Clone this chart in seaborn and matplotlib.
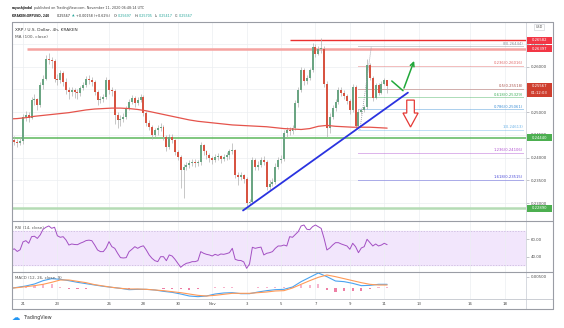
import numpy as np
import pandas as pd
import matplotlib
matplotlib.use("Agg")
import matplotlib.pyplot as plt
import matplotlib.dates as mdates
import matplotlib.transforms as mtransforms
from matplotlib.patches import Rectangle, Polygon
from matplotlib.lines import Line2D
import seaborn as sns

sns.set_theme(style="white")
plt.rcParams['font.family'] = ['DejaVu Sans']

# ---------------- data ----------------
candle_first = "2020-10-20 08:00"   # 4h candles
first_open = 0.2446
closes = [0.2439, 0.2435, 0.2432, 0.2436, 0.2490, 0.2494, 0.2488, 0.2527, 0.2529, 0.2516,
          0.2560, 0.2574, 0.2618, 0.2615, 0.2612, 0.2574, 0.2571, 0.2586, 0.2567, 0.2549,
          0.2545, 0.2549, 0.2545, 0.2542, 0.2553, 0.2560, 0.2574, 0.2571, 0.2566, 0.2545,
          0.2527, 0.2530, 0.2533, 0.2571, 0.2549, 0.2546, 0.2494, 0.2483, 0.2486, 0.2490,
          0.2509, 0.2523, 0.2531, 0.2520, 0.2527, 0.2534, 0.2498, 0.2476, 0.2468, 0.2450,
          0.2461, 0.2465, 0.2468, 0.2446, 0.2424, 0.2446, 0.2439, 0.2413, 0.2402, 0.2373,
          0.2380, 0.2384, 0.2389, 0.2391, 0.2388, 0.2390, 0.2428, 0.2414, 0.2406, 0.2399,
          0.2395, 0.2402, 0.2403, 0.2397, 0.2402, 0.2405, 0.2415, 0.2417, 0.2362, 0.2358,
          0.2361, 0.2353, 0.2300, 0.2303, 0.2395, 0.2380, 0.2384, 0.2395, 0.2391, 0.2336,
          0.2343, 0.2347, 0.2380, 0.2395, 0.2398, 0.2454, 0.2461, 0.2458, 0.2465, 0.2520,
          0.2549, 0.2593, 0.2568, 0.2575, 0.2593, 0.2644, 0.2629, 0.2638, 0.2640, 0.2563,
          0.2465, 0.2490, 0.2509, 0.2523, 0.2549, 0.2543, 0.2536, 0.2525, 0.2505, 0.2556,
          0.2470, 0.2501, 0.2505, 0.2511, 0.2604, 0.2575, 0.2531, 0.2560, 0.2543, 0.2563,
          0.25697, 0.25567]
highs = [0.2452, 0.2448, 0.2442, 0.2445, 0.2496, 0.2502, 0.2500, 0.2534, 0.2540, 0.2532,
         0.2566, 0.2582, 0.2625, 0.2630, 0.2622, 0.2616, 0.2585, 0.2592, 0.2590, 0.2575,
         0.2556, 0.2555, 0.2553, 0.2552, 0.2558, 0.2566, 0.2580, 0.2582, 0.2578, 0.2570,
         0.2548, 0.2536, 0.2540, 0.2578, 0.2574, 0.2556, 0.2550, 0.2500, 0.2494, 0.2498,
         0.2514, 0.2530, 0.2538, 0.2535, 0.2533, 0.2540, 0.2538, 0.2502, 0.2482, 0.2472,
         0.2465, 0.2472, 0.2476, 0.2472, 0.2450, 0.2452, 0.2452, 0.2442, 0.2418, 0.2406,
         0.2386, 0.2390, 0.2396, 0.2398, 0.2398, 0.2396, 0.2434, 0.2430, 0.2418, 0.2410,
         0.2403, 0.2408, 0.2410, 0.2406, 0.2408, 0.2412, 0.2420, 0.2432, 0.2420, 0.2368,
         0.2368, 0.2364, 0.2358, 0.2310, 0.2402, 0.2400, 0.2392, 0.2402, 0.2404, 0.2395,
         0.2350, 0.2355, 0.2388, 0.2402, 0.2405, 0.2460, 0.2468, 0.2468, 0.2472, 0.2526,
         0.2556, 0.2600, 0.2598, 0.2582, 0.2598, 0.2652, 0.2650, 0.2645, 0.2662, 0.2645,
         0.2568, 0.2498, 0.2515, 0.2530, 0.2555, 0.2556, 0.2548, 0.2540, 0.2530, 0.2562,
         0.2560, 0.2506, 0.2510, 0.2516, 0.2618, 0.2608, 0.2580, 0.2565, 0.2564, 0.2568,
         0.2575, 0.25705]
lows = [0.2432, 0.2428, 0.2424, 0.2428, 0.2430, 0.2480, 0.2478, 0.2484, 0.2515, 0.2505,
        0.2512, 0.2552, 0.2570, 0.2605, 0.2598, 0.2566, 0.2560, 0.2565, 0.2558, 0.2540,
        0.2530, 0.2535, 0.2532, 0.2530, 0.2536, 0.2548, 0.2555, 0.2562, 0.2558, 0.2538,
        0.2515, 0.2520, 0.2522, 0.2528, 0.2540, 0.2536, 0.2475, 0.2465, 0.2470, 0.2478,
        0.2485, 0.2505, 0.2518, 0.2512, 0.2515, 0.2522, 0.2492, 0.2470, 0.2460, 0.2442,
        0.2445, 0.2450, 0.2458, 0.2440, 0.2415, 0.2420, 0.2432, 0.2405, 0.2395, 0.2333,
        0.2312, 0.2374, 0.2378, 0.2382, 0.2380, 0.2382, 0.2385, 0.2405, 0.2398, 0.2390,
        0.2386, 0.2390, 0.2394, 0.2388, 0.2392, 0.2396, 0.2398, 0.2408, 0.2355, 0.2340,
        0.2350, 0.2345, 0.2293, 0.2296, 0.2300, 0.2372, 0.2372, 0.2380, 0.2384, 0.2330,
        0.2330, 0.2338, 0.2342, 0.2375, 0.2388, 0.2392, 0.2445, 0.2450, 0.2452, 0.2460,
        0.2512, 0.2545, 0.2560, 0.2562, 0.2570, 0.2588, 0.2622, 0.2625, 0.2630, 0.2555,
        0.2446, 0.2455, 0.2484, 0.2502, 0.2518, 0.2535, 0.2528, 0.2518, 0.2496, 0.2500,
        0.2462, 0.2468, 0.2495, 0.2500, 0.2508, 0.2570, 0.2525, 0.2528, 0.2538, 0.2540,
        0.2560, 0.25417]
rsi_values = [48, 49, 46, 48, 57, 58.4, 55.4, 63, 63.5, 61,
              65, 71.5, 73.8, 75.3, 72.6, 73.8, 64, 62.3, 63, 59.2,
              53.4, 54.6, 54, 53.8, 55.5, 56.8, 58.5, 59, 58.4, 53.4,
              47.7, 45.8, 45.8, 50, 57.3, 51.5, 49.6, 43.9, 38.9, 38.5,
              38.9, 45.8, 48.5, 51.5, 49.6, 51.5, 52.5, 47.7, 42, 38.1,
              35.4, 34.3, 40, 40, 35.4, 42, 40.8, 37, 32.5, 27.8,
              30.5, 32.4, 33.1, 34.3, 34.3, 35.4, 45.8, 43.9, 42.7, 42,
              40.8, 42.7, 41.5, 43.1, 42.7, 43.5, 44.6, 49.6, 37, 35.8,
              35.6, 34, 26.6, 31.6, 50.8, 49.6, 50.4, 51, 42, 43.9,
              44.6, 45.8, 49.6, 52.3, 52.3, 53.4, 52.3, 63, 62.3, 65.5,
              68.8, 75.3, 76.4, 71.5, 71, 74.5, 76.4, 74.5, 72.5, 61.1,
              47.7, 50, 53.4, 56.1, 56.1, 54.6, 53.4, 52.3, 48.5, 55.4,
              51.5, 44.6, 50, 51.5, 60, 56.1, 52.3, 54.6, 52.3, 53.4,
              55.4, 53.8]

ind_first = "2020-10-20 04:00"      # indicator readings every 12h
ma100 = [0.2485, 0.2486, 0.2488, 0.2491, 0.2493, 0.2495, 0.2497, 0.2499, 0.2502, 0.2505,
         0.2507, 0.2508, 0.2509, 0.2509, 0.2508, 0.2506, 0.2503, 0.2499, 0.2495, 0.2491,
         0.2487, 0.2483, 0.2480, 0.2478, 0.2476, 0.2474, 0.2472, 0.2471, 0.2470, 0.2469,
         0.2468, 0.2466, 0.2464, 0.2463, 0.2462, 0.2464, 0.2469, 0.2471, 0.2469, 0.2468,
         0.2467, 0.2467, 0.2467, 0.2466, 0.2465]
macd_line = [-0.00030, 0.00030, 0.00091, 0.00182, 0.00333, 0.00424, 0.00394, 0.00333, 0.00258, 0.00197,
             0.00136, 0.00076, 0.00030, -0.00015, -0.00076, -0.00061, -0.00061, -0.00091, -0.00152, -0.00197,
             -0.00273, -0.00364, -0.00394, -0.00364, -0.00273, -0.00227, -0.00212, -0.00258, -0.00258, -0.00182,
             -0.00121, -0.00076, -0.00061, 0.00045, 0.00288, 0.00485, 0.00682, 0.00515, 0.00318, 0.00288,
             0.00212, 0.00106, 0.00121, 0.00167, 0.00167]
signal_line = [-0.00015, 0.00015, 0.00061, 0.00106, 0.00167, 0.00258, 0.00364, 0.00364, 0.00303, 0.00242,
               0.00152, 0.00091, 0.00030, -0.00015, -0.00045, -0.00045, -0.00061, -0.00091, -0.00121, -0.00167,
               -0.00212, -0.00273, -0.00333, -0.00364, -0.00333, -0.00288, -0.00242, -0.00242, -0.00242, -0.00212,
               -0.00182, -0.00136, -0.00121, 0.00000, 0.00167, 0.00333, 0.00485, 0.00591, 0.00515, 0.00424,
               0.00333, 0.00242, 0.00167, 0.00136, 0.00136]

view_start, view_end = "2020-10-20 08:14", "2020-11-19 05:45"
price_ticks = [0.230, 0.235, 0.240, 0.245, 0.250, 0.255, 0.260, 0.265]
date_ticks = ["2020-10-21", "2020-10-23", "2020-10-26", "2020-10-28", "2020-10-30", "2020-11-01",
              "2020-11-03", "2020-11-05", "2020-11-07", "2020-11-09", "2020-11-11", "2020-11-13",
              "2020-11-16", "2020-11-18"]
date_labels = ["21", "23", "26", "28", "30", "Nov", "3", "5", "7", "9", "11", "13", "16", "18"]
rsi_ticks = [40, 60]
macd_ticks = [0.005]

resistance_top, resistance_top_from = 0.26582, "2020-11-05 12:00"
resistance, resistance_from = 0.26397, "2020-10-21 06:00"
support = 0.2444
support_low = 0.2289
last_price = 0.25567
countdown = "01:12:03"
fib_ratios = ["0", "0.236", "0.5", "0.618", "0.786", "1", "1.236", "1.618"]
fib_prices = [0.26444, 0.26016, 0.25518, 0.25329, 0.25061, 0.24613, 0.24106, 0.23515]
fib_span = ["2020-11-09 12:00", "2020-11-19 01:40"]
fib_anchor_times = ["2020-11-09 14:00", "2020-11-10 06:00"]
fib_anchor_prices = [0.24613, 0.26444]
trend_times = ["2020-11-02 19:00", "2020-11-12 09:00"]
trend_prices = [0.2284, 0.2543]
up_path_times = ["2020-11-11 10:30", "2020-11-12 02:10", "2020-11-12 19:00"]
up_path_prices = [0.25686, 0.25473, 0.26185]
down_arrow_time = "2020-11-12 12:40"
down_arrow_prices = [0.25266, 0.24982, 0.24675]   # top, head base, tip

UP, DOWN = "#6ba583", "#d75442"

# ---------------- figure ----------------
W, H = 564, 328
fig = plt.figure(figsize=(W / 100, H / 100), dpi=100)
fig.patch.set_facecolor("white")


def fx(x):
    return x / W


def fy(y):
    return 1 - y / H


L, R = 11.7, 526.0
ax = fig.add_axes([fx(L), fy(221), fx(R) - fx(L), fy(22) - fy(221)])
ax_rsi = fig.add_axes([fx(L), fy(272), fx(R) - fx(L), fy(221) - fy(272)], sharex=ax)
ax_macd = fig.add_axes([fx(L), fy(299), fx(R) - fx(L), fy(272) - fy(299)], sharex=ax)


def dn(s):
    return mdates.date2num(pd.Timestamp(s))


n = len(closes)
t = mdates.date2num(pd.date_range(candle_first, periods=n, freq="4h"))
t_ind = mdates.date2num(pd.date_range(ind_first, periods=len(ma100), freq="12h"))
x0, x1 = dn(view_start), dn(view_end)

c = np.array(closes)
o = np.array([first_open] + closes[:-1])
h = np.maximum.reduce([np.array(highs), o, c])
l = np.minimum.reduce([np.array(lows), o, c])
up = c >= o

grid_c = "#eceef2"
tick_nums = [dn(d) for d in date_ticks]
for a in (ax, ax_rsi, ax_macd):
    a.set_facecolor("white")
    for s in a.spines.values():
        s.set_visible(False)
    a.set_axisbelow(True)
    a.set_xticks(tick_nums)
    a.grid(True, axis="x", color=grid_c, lw=0.5)
ax.grid(True, axis="y", color=grid_c, lw=0.5)

# ---- main price panel ----
ax.vlines(t, l, h, color="#b0b0b0", lw=0.5, zorder=3)
body = np.where(np.abs(c - o) < 0.00008, np.where(up, 0.00008, -0.00008), c - o)
ax.bar(t, body, bottom=o, width=0.115, color=np.where(up, UP, DOWN), lw=0, zorder=4)

sns.lineplot(x=t_ind, y=ma100, ax=ax, color="#e5534b", lw=0.9, zorder=5)

ax.hlines(resistance, dn(resistance_from), x1, color="#f5a3a0", lw=1.8, zorder=2)
ax.hlines(resistance_top, dn(resistance_top_from), x1, color="#eb2f2f", lw=1.0, zorder=2)
ax.hlines(support, x0, x1, color="#5cb85c", lw=1.1, zorder=2)
ax.hlines(support_low, x0, x1, color="#b5dcb5", lw=1.8, zorder=2)

fib_colors = ["#8a8d96", "#e06666", "#a9524a", "#3fae5a", "#3d8fd6", "#6db3e8", "#b04fd0", "#4a4ad8"]
for ratio, price, col in zip(fib_ratios, fib_prices, fib_colors):
    ax.hlines(price, dn(fib_span[0]), dn(fib_span[1]), color=col, lw=0.6,
              linestyles=(0, (1.2, 1.2)), zorder=2)
    ax.text(dn(fib_span[1]), price + 0.00012, f"{ratio}({price:.5f})", ha="right", va="bottom",
            fontsize=2.7, color=col, zorder=6)
ax.plot([dn(s) for s in fib_anchor_times], fib_anchor_prices, color="#9a9da6", lw=0.6,
        ls=(0, (1.2, 1.2)), zorder=6)

ax.plot([dn(s) for s in trend_times], trend_prices, color="#2a33e0", lw=1.3, zorder=7)

gt = [dn(s) for s in up_path_times]
ax.plot(gt[:2], up_path_prices[:2], color="#21a83a", lw=1.1, zorder=7)
ax.annotate("", xy=(gt[2], up_path_prices[2]), xytext=(gt[1], up_path_prices[1]),
            arrowprops=dict(arrowstyle="->", color="#21a83a", lw=1.1, mutation_scale=7), zorder=7)

ct = dn(down_arrow_time)
ptop, pbase, ptip = down_arrow_prices
sw, hw = 0.22, 0.44
ax.add_patch(Polygon([(ct - sw, ptop), (ct + sw, ptop), (ct + sw, pbase), (ct + hw, pbase),
                      (ct, ptip), (ct - hw, pbase), (ct - sw, pbase)], closed=True,
                     facecolor="white", edgecolor="#e53935", lw=0.9, zorder=8))

ymin = 0.26 - (221 - 66.7) / 4550
ymax = 0.26 + (66.7 - 22) / 4550
ax.set_xlim(x0, x1)
ax.set_ylim(ymin, ymax)
ax.set_yticks(price_ticks)
ax.set_yticklabels([f"{v:.5f}" for v in price_ticks])
ax.yaxis.tick_right()
ax.tick_params(axis="y", which="both", right=True, length=2, width=0.4, color="#9598a1",
               pad=1.5, labelsize=2.75, labelcolor="#4a4a4a")
ax.tick_params(axis="x", bottom=False, labelbottom=False)
ax.set_xlabel("")
ax.set_ylabel("")

# price boxes on the right scale
trans = mtransforms.blended_transform_factory(ax.transAxes, ax.transData)
bx = (527 - L) / (R - L)
bw = 25 / (R - L)
bh = 7 * (ymax - ymin) / 199


def price_box(price, text, color):
    ax.add_patch(Rectangle((bx, price - bh / 2), bw, bh, transform=trans, clip_on=False,
                           facecolor=color, edgecolor="none", zorder=20))
    ax.text(bx + bw / 2, price, text, transform=trans, ha="center", va="center",
            fontsize=2.7, color="white", clip_on=False, zorder=21)


price_box(resistance_top, f"{resistance_top:.5f}", "#f23645")
price_box(resistance, f"{resistance:.5f}", "#f23645")
price_box(last_price, f"{last_price:.5f}", "#cf3e2e")
price_box(last_price - bh * 0.98, countdown, "#cf3e2e")
price_box(support, f"{support:.5f}", "#4caf50")
price_box(support_low, f"{support_low:.5f}", "#4caf50")

ax.text(0.0065, 0.962, "XRP / U.S. Dollar, 4h, KRAKEN", transform=ax.transAxes, fontsize=3.1,
        color="#333333", va="center")
ax.text(0.0065, 0.927, "MA (100, close)", transform=ax.transAxes, fontsize=3.1,
        color="#555555", va="center")

# ---- RSI panel ----
ax_rsi.axhspan(30, 70, color="#f2e6fc", zorder=0)
ax_rsi.axhline(70, color="#c6b4da", lw=0.5, ls=(0, (2, 2)))
ax_rsi.axhline(30, color="#c6b4da", lw=0.5, ls=(0, (2, 2)))
sns.lineplot(x=t, y=rsi_values, ax=ax_rsi, color="#a34fc3", lw=0.7)
ax_rsi.set_ylim(22.4, 81)
ax_rsi.set_yticks(rsi_ticks)
ax_rsi.set_yticklabels([f"{v:.2f}" for v in rsi_ticks])
ax_rsi.yaxis.tick_right()
ax_rsi.tick_params(axis="y", right=True, length=2, width=0.4, color="#9598a1", pad=1.5,
                   labelsize=2.75, labelcolor="#4a4a4a")
ax_rsi.tick_params(axis="x", bottom=False, labelbottom=False)
ax_rsi.set_xlabel("")
ax_rsi.set_ylabel("")
ax_rsi.text(0.0065, 0.86, "RSI (14, close)", transform=ax_rsi.transAxes, fontsize=2.9,
            color="#555555", va="center")

# ---- MACD panel ----
hist = np.array(macd_line) - np.array(signal_line)
ax_macd.bar(t_ind, hist, width=0.13, color=np.where(hist >= 0, "#f7b3cc", "#ee7fa5"), lw=0, zorder=2)
sns.lineplot(x=t_ind, y=macd_line, ax=ax_macd, color="#4aa3f0", lw=0.8)
sns.lineplot(x=t_ind, y=signal_line, ax=ax_macd, color="#ff9a57", lw=0.8)
ax_macd.set_ylim(-0.005, 0.00727)
ax_macd.set_yticks(macd_ticks)
ax_macd.set_yticklabels([f"{v:.5f}" for v in macd_ticks])
ax_macd.yaxis.tick_right()
ax_macd.tick_params(axis="y", right=True, length=2, width=0.4, color="#9598a1", pad=1.5,
                    labelsize=2.75, labelcolor="#4a4a4a")
ax_macd.set_xticks(tick_nums)
ax_macd.set_xticklabels(date_labels)
ax_macd.tick_params(axis="x", bottom=True, labelbottom=True, length=0, pad=2.2,
                    labelsize=2.8, labelcolor="#4a4a4a")
ax_macd.set_xlim(x0, x1)
ax_macd.set_xlabel("")
ax_macd.set_ylabel("")
ax_macd.text(0.0065, 0.78, "MACD (12, 26, close, 9)", transform=ax_macd.transAxes, fontsize=2.9,
             color="#555555", va="center")


# ---- frame ----
def fline(xa, ya, xb, yb, color, lw):
    fig.add_artist(Line2D([fx(xa), fx(xb)], [fy(ya), fy(yb)], transform=fig.transFigure,
                          color=color, lw=lw))


fline(R, 22, R, 309, "#d0d3da", 0.6)
for yy in (221, 272):
    fline(L, yy, 553, yy, "#9a9da5", 0.8)
fline(L, 299, 553, 299, "#c3c6cd", 0.6)
fline(L, 22, 553, 22, "#9a9da5", 0.8)
fline(L, 309, 553, 309, "#9a9da5", 0.8)
fline(L, 22, L, 309, "#9a9da5", 0.8)
fline(553, 22, 553, 309, "#9a9da5", 0.8)

fig.text(fx(539), fy(27), "USD", fontsize=2.4, color="#555555", ha="center", va="center",
         bbox=dict(boxstyle="square,pad=0.35", fc="white", ec="#c8cbd2", lw=0.4))

# ---- header ----
hs = 2.45
fig.text(fx(12), fy(8.3), "aayushjindal", fontsize=2.2, weight="bold", color="#222222", va="center")
fig.text(fx(34.5), fy(8.3), "published on TradingView.com, November 11, 2020 06:48:14 UTC",
         fontsize=hs, color="#444444", va="center")
teal = "#26a69a"
pieces = [(12, "KRAKEN:XRPUSD, 240", "#222222", "bold", 2.2), (57, "0.25567", "#222222", "normal", hs),
          (72, "▲", teal, "normal", hs), (76, "+0.00158 (+0.62%)", "#333333", "normal", hs),
          (114, "O:", "#333333", "normal", hs), (118, "0.25697", teal, "normal", hs),
          (135, "H:", "#333333", "normal", hs), (139, "0.25705", teal, "normal", hs),
          (155, "L:", "#333333", "normal", hs), (159, "0.25417", teal, "normal", hs),
          (175, "C:", "#333333", "normal", hs), (179, "0.25567", teal, "normal", hs)]
for xp, txt, col, wt, fs in pieces:
    fig.text(fx(xp), fy(15.7), txt, fontsize=fs, color=col, weight=wt, va="center")

# ---- logo ----
fig.text(fx(11.5), fy(317.5), "☁", fontsize=6, color="#2196f3", va="center")
fig.text(fx(23.5), fy(317.5), "TradingView", fontsize=3.4, color="#333333", va="center")

fig.savefig("out.png", dpi=100)
